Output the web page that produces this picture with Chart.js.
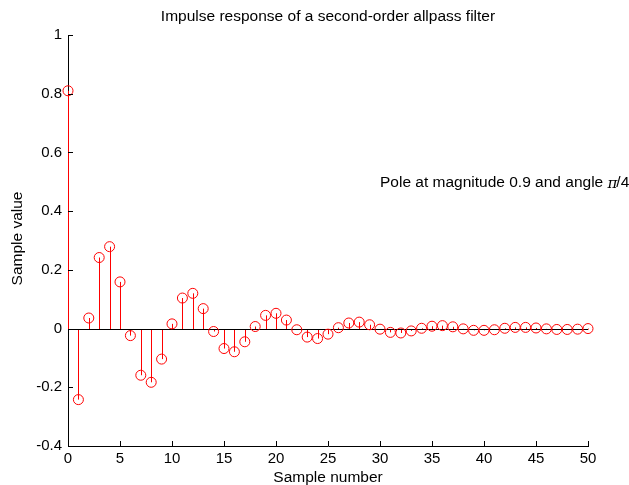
<!DOCTYPE html>
<html>
<head>
<meta charset="utf-8">
<script src="https://cdn.jsdelivr.net/npm/chart.js@4"></script>
<style>
html, body { margin: 0; padding: 0; background: #fff; }
</style>
</head>
<body>
<canvas id="myChart" width="629" height="485"></canvas>
<script>
// sample index n
const samples = [0,1,2,3,4,5,6,7,8,9,10,11,12,13,14,15,16,17,18,19,20,
    21,22,23,24,25,26,27,28,29,30,31,32,33,34,35,36,37,38,39,40,
    41,42,43,44,45,46,47,48,49,50];

// h[n]
const response = [0.810, -0.242, 0.036, 0.242, 0.279, 0.159, -0.024, -0.159, -0.183, -0.104,
    0.016, 0.104, 0.120, 0.068, -0.010, -0.068, -0.079, -0.045, 0.007, 0.045,
    0.052, 0.029, -0.004, -0.029, -0.034, -0.019, 0.003, 0.019, 0.022, 0.013,
    -0.002, -0.013, -0.015, -0.008, 0.001, 0.008, 0.010, 0.006, -0.001, -0.006,
    -0.006, -0.004, 0.001, 0.004, 0.004, 0.002, -0.001, -0.003, -0.003, -0.002, 0.000];

const titleText = "Impulse response of a second-order allpass filter";
const xLabel = "Sample number";
const yLabel = "Sample value";
const noteParts = ["Pole at magnitude 0.9 and angle ", "π", "/4"];
const notePos = {x: 30, y: 0.5};

const FONT = "'Liberation Sans', Arial, sans-serif";
const TXT = "15.5px " + FONT;

const stemPlugin = {
    id: "stems",
    beforeDatasetsDraw(chart) {
        const ctx = chart.ctx;
        const xs = chart.scales.x, ys = chart.scales.y;
        const y0 = Math.round(ys.getPixelForValue(0)) + 0.5;
        ctx.save();
        ctx.lineWidth = 1;
        // stems
        ctx.strokeStyle = "#ff0000";
        for (let i = 0; i < samples.length; i++) {
            const px = Math.round(xs.getPixelForValue(samples[i])) + 0.5;
            ctx.beginPath();
            ctx.moveTo(px, y0);
            ctx.lineTo(px, ys.getPixelForValue(response[i]));
            ctx.stroke();
        }
        // baseline
        ctx.strokeStyle = "#000";
        ctx.beginPath();
        ctx.moveTo(xs.getPixelForValue(samples[0]), y0);
        ctx.lineTo(xs.getPixelForValue(samples[samples.length - 1]), y0);
        ctx.stroke();
        ctx.restore();
    },
    afterDraw(chart) {
        const ctx = chart.ctx;
        const xs = chart.scales.x, ys = chart.scales.y;
        const area = chart.chartArea;
        ctx.save();
        // inward tick marks
        ctx.strokeStyle = "#000";
        ctx.lineWidth = 1;
        ctx.beginPath();
        xs.ticks.forEach(t => {
            const px = Math.round(xs.getPixelForValue(t.value)) + 0.5;
            ctx.moveTo(px, area.bottom);
            ctx.lineTo(px, area.bottom - 5);
        });
        ys.ticks.forEach(t => {
            const py = Math.round(ys.getPixelForValue(t.value)) + 0.5;
            ctx.moveTo(area.left, py);
            ctx.lineTo(area.left + 5, py);
        });
        ctx.stroke();

        ctx.fillStyle = "#000";
        ctx.font = TXT;
        ctx.textAlign = "center";
        ctx.textBaseline = "middle";
        const cx = (area.left + area.right) / 2;
        ctx.fillText(titleText, cx, 17);
        ctx.fillText(xLabel, cx, 478);

        ctx.save();
        ctx.translate(18, (area.top + area.bottom) / 2 - 2);
        ctx.rotate(-Math.PI / 2);
        ctx.fillText(yLabel, 0, 0);
        ctx.restore();

        // annotation, pi in a symbol-like face
        ctx.textAlign = "left";
        ctx.textBaseline = "alphabetic";
        let nx = xs.getPixelForValue(notePos.x);
        const ny = ys.getPixelForValue(notePos.y) + 5.5;
        ctx.fillText(noteParts[0], nx, ny);
        nx += ctx.measureText(noteParts[0]).width;
        ctx.font = "italic 15px 'DejaVu Serif', serif";
        ctx.fillText(noteParts[1], nx, ny + 1);
        nx += ctx.measureText(noteParts[1]).width - 1;
        ctx.font = TXT;
        ctx.fillText(noteParts[2], nx, ny);
        ctx.restore();
    }
};

new Chart("myChart", {
    type: "scatter",
    data: {
        datasets: [{
            data: samples.map((n, i) => ({x: n, y: response[i]})),
            borderColor: "#ff0000",
            backgroundColor: "rgba(0,0,0,0)",
            borderWidth: 1,
            pointRadius: 5,
            pointHoverRadius: 5,
            clip: false
        }]
    },
    options: {
        responsive: false,
        animation: false,
        events: [],
        layout: {padding: {top: 35, right: 41, left: 0, bottom: 0}},
        plugins: {legend: {display: false}, tooltip: {enabled: false}},
        scales: {
            x: {
                type: "linear",
                min: 0,
                max: 50,
                afterFit: s => { s.height = 39; },
                grid: {display: false, drawTicks: false},
                border: {color: "#000", width: 1},
                ticks: {stepSize: 5, padding: 4, color: "#000", font: {family: FONT, size: 15}}
            },
            y: {
                min: -0.4,
                max: 1,
                afterFit: s => { s.width = 68; },
                grid: {display: false, drawTicks: false},
                border: {color: "#000", width: 1},
                ticks: {
                    stepSize: 0.2, padding: 6, color: "#000", font: {family: FONT, size: 15},
                    callback: v => String(+v.toFixed(1))
                }
            }
        }
    },
    plugins: [stemPlugin]
});
</script>
</body>
</html>
